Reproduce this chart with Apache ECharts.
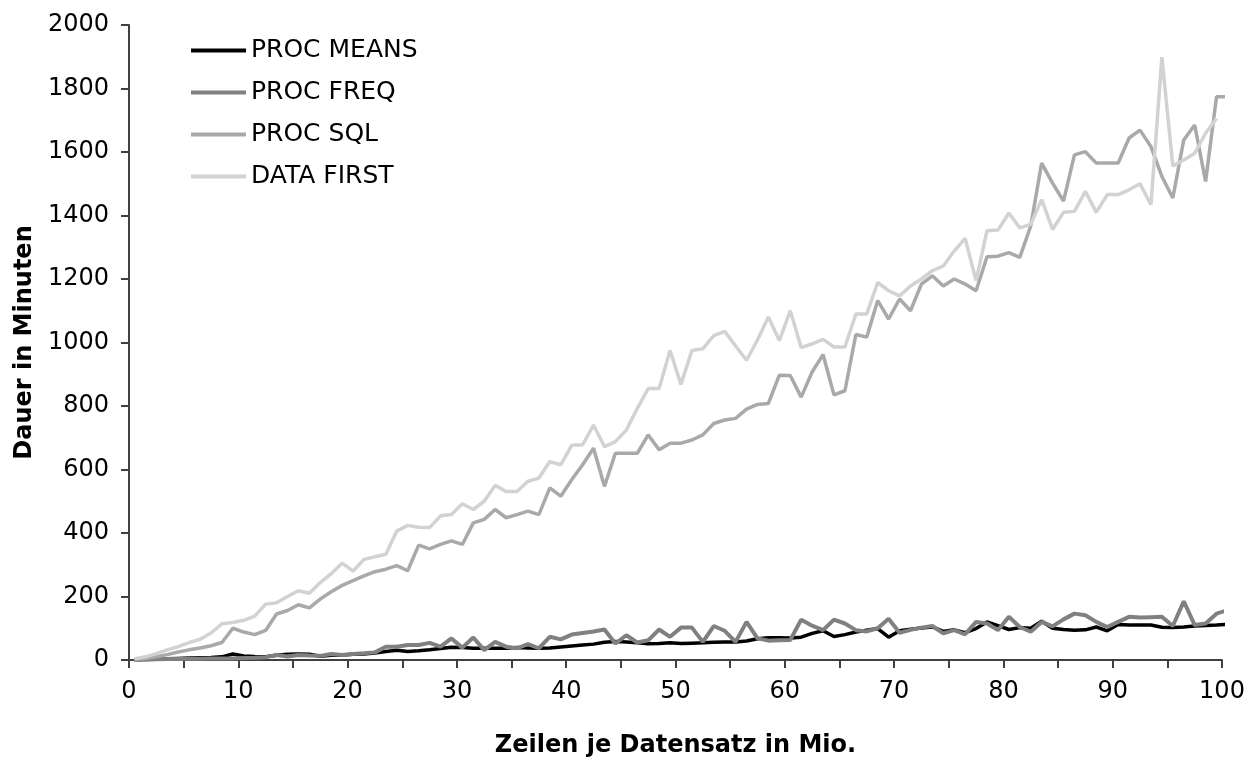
<!DOCTYPE html>
<html>
<head>
<meta charset="utf-8">
<script src="https://cdn.jsdelivr.net/npm/echarts@6/dist/echarts.min.js"></script>
<style>
  html, body { margin: 0; padding: 0; background: #fff; }
  #chart { width: 1253px; height: 763px; }
</style>
</head>
<body>
<div id="chart"></div>
<script>
// Zeilen je Datensatz in Mio.
var xs = [0.5,1.5,2.5,3.5,4.5,5.5,6.5,7.5,8.5,9.5,
  10.5,11.5,12.5,13.5,14.5,15.5,16.5,17.5,18.5,19.5,
  20.5,21.5,22.5,23.5,24.5,25.5,26.5,27.5,28.5,29.5,
  30.5,31.5,32.5,33.5,34.5,35.5,36.5,37.5,38.5,39.5,
  40.5,41.5,42.5,43.5,44.5,45.5,46.5,47.5,48.5,49.5,
  50.5,51.5,52.5,53.5,54.5,55.5,56.5,57.5,58.5,59.5,
  60.5,61.5,62.5,63.5,64.5,65.5,66.5,67.5,68.5,69.5,
  70.5,71.5,72.5,73.5,74.5,75.5,76.5,77.5,78.5,79.5,
  80.5,81.5,82.5,83.5,84.5,85.5,86.5,87.5,88.5,89.5,
  90.5,91.5,92.5,93.5,94.5,95.5,96.5,97.5,98.5,99.5,
  100.5];

// Dauer in Minuten
var procMeans = [1,2,3,4,5,6,7,8,10,19,
  13,11,10,15,18,19,18,12,15,16,
  18,19,22,27,31,27,29,32,36,40,
  39,37,37,37,37,39,38,37,38,41,
  44,47,50,56,58,57,54,51,52,54,
  52,53,54,56,57,57,60,67,70,70,
  69,72,84,92,74,80,88,94,99,72,
  92,97,101,104,90,95,86,99,120,108,
  96,102,100,122,100,96,94,95,104,92,
  112,110,110,110,103,102,104,107,109,110,
  112];

var procFreq = [0,1,2,3,3,4,4,5,5,5,
  6,7,9,16,11,16,14,13,19,16,
  19,21,24,42,42,47,47,54,42,68,
  39,71,31,57,42,37,50,37,73,65,
  80,85,90,96,52,78,55,62,96,73,
  102,102,57,107,92,57,120,68,61,62,
  63,127,108,94,127,115,94,90,100,130,
  86,95,102,107,84,94,81,120,115,94,
  136,104,89,120,106,128,146,141,120,104,
  120,136,134,135,136,107,185,110,115,146,
  157];

var procSql = [2,5,10,17,25,32,38,45,55,100,
  88,80,93,145,156,174,164,192,215,235,
  250,265,278,286,297,281,362,350,364,375,
  364,432,443,474,448,458,469,458,542,516,
  568,615,667,547,651,651,651,709,662,683,
  683,693,709,745,756,761,790,805,808,897,
  896,828,907,962,835,848,1025,1017,1132,1074,
  1137,1100,1184,1210,1178,1200,1184,1163,1270,1272,
  1283,1268,1367,1565,1502,1445,1591,1601,1565,1565,
  1565,1644,1669,1617,1523,1455,1638,1685,1507,1774,
  1774];

var dataFirst = [3,10,20,32,42,55,65,85,114,118,
  125,138,176,180,200,218,210,244,272,305,
  280,317,325,333,406,424,418,417,454,458,
  492,474,500,550,531,531,563,573,625,615,
  676,678,740,672,688,724,792,855,855,975,
  868,975,980,1022,1035,989,944,1008,1080,1006,
  1100,984,996,1010,986,986,1090,1090,1189,1163,
  1147,1178,1200,1226,1241,1288,1328,1195,1352,1354,
  1408,1361,1372,1450,1356,1410,1413,1476,1410,1466,
  1466,1481,1500,1434,1899,1556,1575,1596,1659,1706,
  null];

function pairs(vals) {
  return xs.map(function (x, i) { return [x, vals[i]]; });
}

var axisColor = '#404040';
var font = 'DejaVu Sans';

var chart = echarts.init(document.getElementById('chart'));
chart.setOption({
  backgroundColor: '#ffffff',
  animation: false,
  grid: { left: 129, right: 31, top: 25, bottom: 97 },
  legend: {
    orient: 'vertical',
    left: 186,
    top: 33,
    icon: 'rect',
    itemWidth: 55,
    itemHeight: 4,
    itemGap: 17,
    textStyle: { fontFamily: font, fontSize: 25, color: '#000', lineHeight: 25 },
    data: ['PROC MEANS', 'PROC FREQ', 'PROC SQL', 'DATA FIRST']
  },
  xAxis: {
    type: 'value',
    min: 0,
    max: 100,
    interval: 10,
    name: 'Zeilen je Datensatz in Mio.',
    nameLocation: 'middle',
    nameGap: 74,
    nameTextStyle: { fontFamily: font, fontSize: 24, fontWeight: 'bold', color: '#000' },
    axisLine: { show: true, lineStyle: { color: axisColor, width: 2 } },
    axisTick: { show: true, length: 8, lineStyle: { color: axisColor, width: 2 } },
    minorTick: { show: true, splitNumber: 2, length: 8, lineStyle: { color: axisColor, width: 2 } },
    splitLine: { show: false },
    axisLabel: { fontFamily: font, fontSize: 24, color: '#000', margin: 20 }
  },
  yAxis: {
    type: 'value',
    min: 0,
    max: 2000,
    interval: 200,
    name: 'Dauer in Minuten',
    nameLocation: 'middle',
    nameGap: 90,
    nameTextStyle: { fontFamily: font, fontSize: 24, fontWeight: 'bold', color: '#000' },
    axisLine: { show: true, lineStyle: { color: axisColor, width: 2 } },
    axisTick: { show: true, length: 8, lineStyle: { color: axisColor, width: 2 } },
    splitLine: { show: false },
    axisLabel: {
      fontFamily: font, fontSize: 24, color: '#000', margin: 20,
      formatter: function (v) { return String(v); }
    }
  },
  series: [
    {
      name: 'PROC MEANS',
      type: 'line',
      symbol: 'none',
      data: pairs(procMeans),
      lineStyle: { color: '#000000', width: 3.5 },
      itemStyle: { color: '#000000' }
    },
    {
      name: 'PROC FREQ',
      type: 'line',
      symbol: 'none',
      data: pairs(procFreq),
      lineStyle: { color: '#808080', width: 4 },
      itemStyle: { color: '#808080' }
    },
    {
      name: 'PROC SQL',
      type: 'line',
      symbol: 'none',
      data: pairs(procSql),
      lineStyle: { color: '#a9a9a9', width: 3.5 },
      itemStyle: { color: '#a9a9a9' }
    },
    {
      name: 'DATA FIRST',
      type: 'line',
      symbol: 'none',
      data: pairs(dataFirst),
      lineStyle: { color: '#d2d2d2', width: 3.5 },
      itemStyle: { color: '#d2d2d2' }
    }
  ]
});
</script>
</body>
</html>
